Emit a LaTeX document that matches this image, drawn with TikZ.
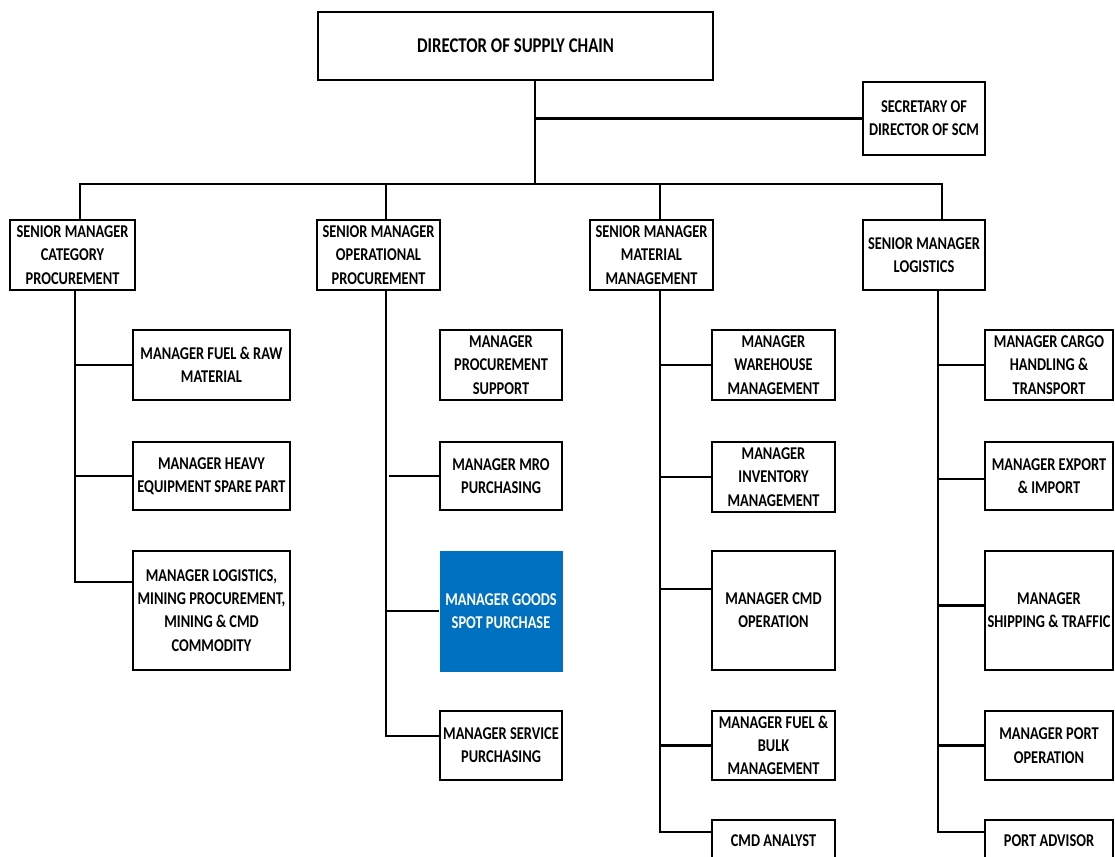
\documentclass[tikz,border=0pt]{standalone}
\usepackage{fontspec}
\setmainfont{Carlito}[FakeStretch=0.8]
\usetikzlibrary{shapes}
\definecolor{spotblue}{HTML}{0070C0}
\tikzstyle{head} = [rectangle, draw, line width=2.8pt, align=center, inner sep=1pt,
    font=\fontsize{21}{24}\selectfont\bfseries]
\tikzstyle{block} = [rectangle, draw, line width=2.8pt, align=center, inner sep=1pt,
    font=\fontsize{18}{23.3}\selectfont\bfseries]
\tikzstyle{spot} = [rectangle, fill=spotblue, text=white, align=center, inner sep=1pt,
    font=\fontsize{18}{23.3}\selectfont\bfseries]
\tikzstyle{line} = [draw, line width=2.8pt]

\begin{document}
\begin{tikzpicture}[x=1pt, y=-1pt]
        \useasboundingbox (0,0) rectangle (1115,856);
        % Place nodes
        \path (515.5,46) node (dir) [head, minimum width=395pt, minimum height=68pt] {DIRECTOR OF SUPPLY CHAIN};
        \path (924,118.5) node (sec) [block, minimum width=122pt, minimum height=73pt] {SECRETARY OF\\DIRECTOR OF SCM};
        \coordinate (bus) at (535,184);
        \path (72.5,255) node (cat) [block, minimum width=125pt, minimum height=70pt] {SENIOR MANAGER\\CATEGORY\\PROCUREMENT};
        \path (378.5,255) node (op) [block, minimum width=123pt, minimum height=70pt] {SENIOR MANAGER\\OPERATIONAL\\PROCUREMENT};
        \path (651.5,255) node (mat) [block, minimum width=123pt, minimum height=70pt] {SENIOR MANAGER\\MATERIAL\\MANAGEMENT};
        \path (924,255) node (log) [block, minimum width=122pt, minimum height=70pt] {SENIOR MANAGER\\LOGISTICS};
        \path [line] ([xshift=19.5pt]dir.south) -- (bus);
        \path [line] (sec.west) -| ([xshift=19.5pt]dir.south);
        \path [line] ([xshift=7.5pt]cat.north) |- (bus) -| ([xshift=18pt]log.north);
        \path [line] ([xshift=7.5pt]op.north) -- ([xshift=7.5pt]op.north |- bus);
        \path [line] ([xshift=8.5pt]mat.north) -- ([xshift=8.5pt]mat.north |- bus);

        %Category Procurement
        \path (211.5,365) node (fuel) [block, minimum width=157pt, minimum height=70pt] {MANAGER FUEL \& RAW\\MATERIAL};
        \path (211.5,476) node (heavy) [block, minimum width=157pt, minimum height=68pt] {MANAGER HEAVY\\EQUIPMENT SPARE PART};
        \path (211.5,610.5) node (mining) [block, minimum width=157pt, minimum height=119pt] {MANAGER LOGISTICS,\\MINING PROCUREMENT,\\MINING \& CMD\\COMMODITY};
        \path [line] ([xshift=2.5pt]cat.south) |- ([yshift=28.5pt]mining.west);
        \path [line] (fuel.west) -- ++(-58,0);
        \path [line] (heavy.west) -- ++(-58,0);

        %Operational Procurement
        \path (501,365) node (support) [block, minimum width=122pt, minimum height=70pt] {MANAGER\\PROCUREMENT\\SUPPORT};
        \path (501,476) node (mro) [block, minimum width=122pt, minimum height=68pt] {MANAGER MRO\\PURCHASING};
        \path (501,611) node (goods) [spot, minimum width=123pt, minimum height=121pt] {MANAGER GOODS\\SPOT PURCHASE};
        \path (501,745.5) node (service) [block, minimum width=122pt, minimum height=69pt] {MANAGER SERVICE\\PURCHASING};
        \path [line] ([xshift=7.5pt]op.south) |- ([yshift=9.5pt]service.west);
        \path [line] (mro.west) -- ++(-50,0);
        \path [line] (goods.west) -- ++(-54,0);

        %Material Management
        \path (773.5,365) node (warehouse) [block, minimum width=123pt, minimum height=70pt] {MANAGER\\WAREHOUSE\\MANAGEMENT};
        \path (773.5,477) node (inventory) [block, minimum width=123pt, minimum height=70pt] {MANAGER\\INVENTORY\\MANAGEMENT};
        \path (773.5,610.5) node (cmdop) [block, minimum width=123pt, minimum height=119pt] {MANAGER CMD\\OPERATION};
        \path (773.5,745.5) node (bulk) [block, minimum width=123pt, minimum height=69pt] {MANAGER FUEL \&\\BULK\\MANAGEMENT};
        \path (773.5,841) node (analyst) [block, minimum width=123pt, minimum height=42pt] {CMD ANALYST};
        \path [line] ([xshift=8.5pt]mat.south) |- ([yshift=9pt]analyst.west);
        \path [line] (warehouse.west) -- ++(-52,0);
        \path [line] (inventory.west) -- ++(-52,0);
        \path [line] ([yshift=21.5pt]cmdop.west) -- ++(-52,0);
        \path [line] (bulk.west) -- ++(-52,0);

        %Logistics
        \path (1049,365) node (cargo) [block, minimum width=128pt, minimum height=70pt] {MANAGER CARGO\\HANDLING \&\\TRANSPORT};
        \path (1049,476) node (export) [block, minimum width=128pt, minimum height=68pt] {MANAGER EXPORT\\\& IMPORT};
        \path (1049,610.5) node (shipping) [block, minimum width=128pt, minimum height=119pt] {MANAGER\\SHIPPING \& TRAFFIC};
        \path (1049,745.5) node (port) [block, minimum width=128pt, minimum height=69pt] {MANAGER PORT\\OPERATION};
        \path (1049,841) node (advisor) [block, minimum width=128pt, minimum height=42pt] {PORT ADVISOR};
        \path [line] ([xshift=14pt]log.south) |- ([yshift=9pt]advisor.west);
        \path [line] (cargo.west) -- ++(-47,0);
        \path [line] ([yshift=-3pt]export.west) -- ++(-47,0);
        \path [line] ([yshift=5pt]shipping.west) -- ++(-47,0);
        \path [line] (port.west) -- ++(-47,0);
    \end{tikzpicture}
\end{document}
